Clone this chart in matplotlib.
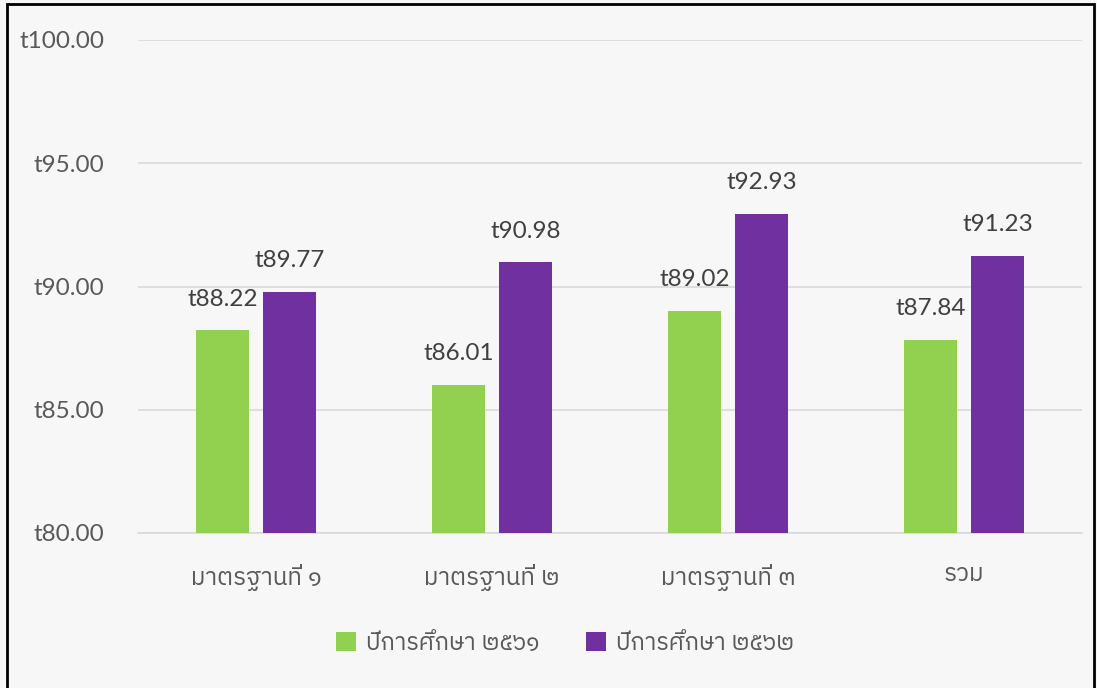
import numpy as np
import matplotlib
matplotlib.use("Agg")
from matplotlib import pyplot as plt
from matplotlib.patches import Rectangle

plt.rcParams['font.family'] = ['Lato', 'IBM Plex Sans Thai', 'Noto Sans', 'DejaVu Sans']

categories = ["มาตรฐานที่ ๑", "มาตรฐานที่ ๒", "มาตรฐานที่ ๓", "รวม"]
series_names = ["ปีการศึกษา ๒๕๖๑", "ปีการศึกษา ๒๕๖๒"]
values_2561 = [88.22, 86.01, 89.02, 87.84]
values_2562 = [89.77, 90.98, 92.93, 91.23]
yticks = [80, 85, 90, 95, 100]

green = "#92d050"
purple = "#7030a0"
bg = "#f7f7f7"

fig = plt.figure(figsize=(10.97, 6.88), dpi=100, facecolor=bg)
ax = fig.add_axes([138 / 1097, 1 - 533 / 688, 944 / 1097, 493 / 688], facecolor=bg)

x = np.arange(len(categories))
w = 0.225
off = 0.142
b1 = ax.bar(x - off, values_2561, w, color=green, label=series_names[0], zorder=3)
b2 = ax.bar(x + off, values_2562, w, color=purple, label=series_names[1], zorder=3)

for bars, vals in [(b1, values_2561), (b2, values_2562)]:
    for r, v in zip(bars, vals):
        ax.annotate("t%.2f" % v, (r.get_x() + r.get_width() / 2, v), xytext=(0, 15),
                    textcoords="offset points", ha="center", va="bottom",
                    fontsize=17.5, color="#404040")

ax.set_xlim(-0.5, 3.5)
ax.set_ylim(80, 100)
ax.set_yticks(yticks)
ax.set_yticklabels(["t%.2f" % t for t in yticks])
ax.set_xticks(x)
ax.set_xticklabels(categories)
ax.tick_params(axis="y", length=0, pad=24, labelsize=17.5, labelcolor="#595959")
ax.tick_params(axis="x", length=0, pad=22, labelsize=17.5, labelcolor="#595959")
ax.grid(axis="y", color="#d9d9d9", lw=1.2, zorder=0)
for s in ["top", "right", "left"]:
    ax.spines[s].set_visible(False)
ax.spines["bottom"].set_color("#d9d9d9")
ax.spines["bottom"].set_linewidth(1.2)

fig.legend(loc="center", bbox_to_anchor=(0.515, 1 - 643 / 688), ncol=2, frameon=False,
           fontsize=17, labelcolor="#595959", handlelength=0.85, handleheight=0.85,
           columnspacing=2.0, handletextpad=0.4)

fig.patches.append(Rectangle((7 / 1097, -0.01), 1087 / 1097, 1 - 4 / 688 + 0.01,
                             transform=fig.transFigure, fill=False, ec="black", lw=2))

fig.savefig("out.png", dpi=100, facecolor=bg)
